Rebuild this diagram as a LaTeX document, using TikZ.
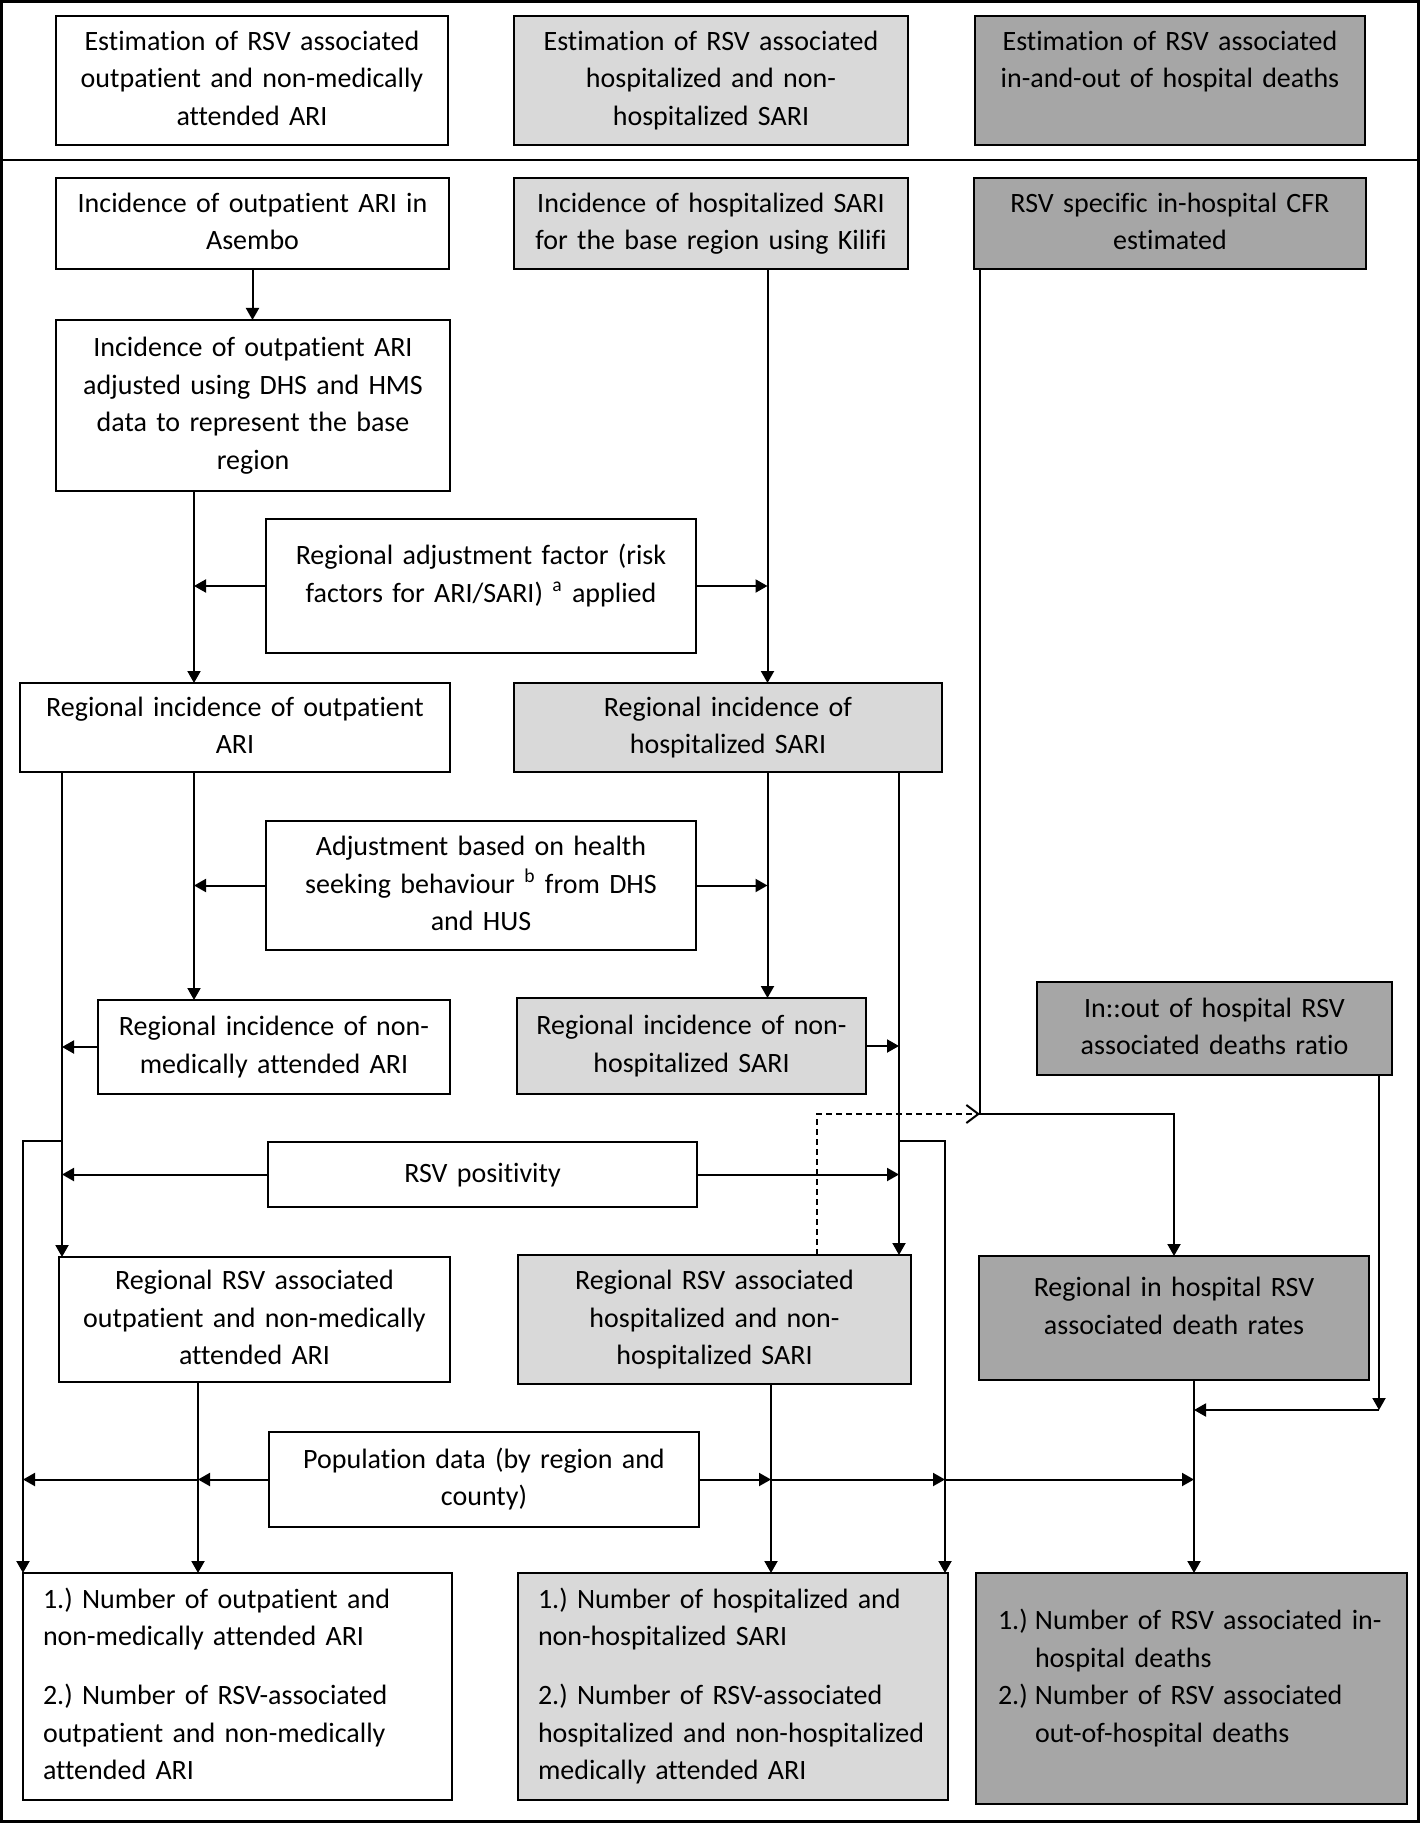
\documentclass[tikz,border=0pt]{standalone}
\usepackage{fontspec}
\setmainfont{Carlito}[Ligatures=NoCommon]
\usetikzlibrary{arrows.meta}
\definecolor{lgray}{HTML}{D9D9D9}
\definecolor{dgray}{HTML}{A6A6A6}
\begin{document}
\begin{tikzpicture}[x=0.5pt,y=-0.5pt,
  bxsz/.code n args={3}{%
    \pgfmathsetlengthmacro\bxw{#1*0.5pt}%
    \pgfmathsetlengthmacro\bxh{#2*0.5pt}%
    \pgfmathsetlengthmacro\bxt{(#1-#3)*0.5pt}%
    \edef\bxtmp{\noexpand\pgfkeysalso{minimum width=\bxw,minimum height=\bxh,text width=\bxt}}\bxtmp},
  base/.style={draw=black, line width=1.4pt, inner sep=0pt, outer sep=0pt, align=center, text=black,
    font=\fontsize{14pt}{18.75pt}\selectfont,
    execute at begin node=\strut, execute at end node=\strut},
  wbox/.style={base, fill=white},
  lbox/.style={base, fill=lgray},
  dbox/.style={base, fill=dgray},
  lft/.style={align=left},
  conn/.style={line width=1pt, draw=black},
  arr/.style={conn, -{Triangle[length=6pt,width=6.5pt]}},
  dsh/.style={conn, dash pattern=on 3pt off 2pt, -{Straight Barb[length=6pt,width=9pt]}},
  frame/.style={line width=1.5pt, draw=black},
  divider/.style={line width=1pt, draw=black}
]
\useasboundingbox (0,0) rectangle (1420,1823);
\draw[frame] (1.5,1.5) rectangle (1418.5,1821.5);
\draw[divider] (0,160) -- (1420,160);

% header row
\node[wbox, bxsz={392}{129}{12}] (h1) at (252,80.5) {Estimation of RSV associated\\outpatient and non-medically\\attended ARI};
\node[lbox, bxsz={394}{129}{12}] (h2) at (711,80.5) {Estimation of RSV associated\\hospitalized and non-\\hospitalized SARI};
\node[dbox, bxsz={390}{129}{12}] (h3) at (1170,80.5) {Estimation of RSV associated\\in-and-out of hospital deaths\\ \mbox{}};

% first row
\node[wbox, bxsz={393}{91}{12}] (r1a) at (252.5,223.5) {Incidence of outpatient ARI in\\Asembo};
\node[lbox, bxsz={394}{91}{12}] (r1b) at (711,223.5) {Incidence of hospitalized SARI\\for the base region using Kilifi};
\node[dbox, bxsz={392}{91}{12}] (r1c) at (1170,223.5) {RSV specific in-hospital CFR\\estimated};

\node[wbox, bxsz={394}{171}{12}] (adj) at (253,405.5) {Incidence of outpatient ARI\\adjusted using DHS and HMS\\data to represent the base\\region};
\node[wbox, bxsz={430}{134}{12}] (raf) at (481,586) {Regional adjustment factor (risk\\factors for ARI/SARI)~\textsuperscript{a} applied\\[-8.75pt]\mbox{}};
\node[wbox, bxsz={430}{89}{12}] (rio) at (235,727.5) {Regional incidence of outpatient\\ARI};
\node[lbox, bxsz={428}{89}{12}] (rih) at (728,727.5) {Regional incidence of\\hospitalized SARI};
\node[wbox, bxsz={430}{129}{12}] (hsb) at (481,885.5) {Adjustment based on health\\seeking behaviour~\textsuperscript{b} from DHS\\and HUS};
\node[wbox, bxsz={352}{94}{12}] (nma) at (274,1047) {Regional incidence of non-\\medically attended ARI};
\node[lbox, bxsz={349}{96}{12}] (nhs) at (691.5,1046) {Regional incidence of non-\\hospitalized SARI};
\node[dbox, bxsz={355}{93}{12}] (ior) at (1214.5,1028.5) {In::out of hospital RSV\\associated deaths ratio};
\node[wbox, bxsz={429}{65}{12}] (pos) at (482.5,1174.5) {RSV positivity};
\node[wbox, bxsz={391}{125}{12}] (rro) at (254.5,1319.5) {Regional RSV associated\\outpatient and non-medically\\attended ARI};
\node[lbox, bxsz={393}{129}{12}] (rrh) at (714.5,1319.5) {Regional RSV associated\\hospitalized and non-\\hospitalized SARI};
\node[dbox, bxsz={390}{124}{12}] (rdr) at (1174,1318) {Regional in hospital RSV\\associated death rates\\[-8.75pt]\mbox{}};
\node[wbox, bxsz={430}{95}{12}] (pop) at (484,1479.5) {Population data (by region and\\county)};

% final row
\node[wbox, lft, bxsz={429}{227}{40}] (fo) at (237.5,1686.5) {1.)\ Number of outpatient and\\non-medically attended ARI\\[10.75pt]2.)\ Number of RSV-associated\\outpatient and non-medically\\attended ARI};
\node[lbox, lft, bxsz={430}{227}{40}] (fh) at (733,1686.5) {1.)\ Number of hospitalized and\\non-hospitalized SARI\\[10.75pt]2.)\ Number of RSV-associated\\hospitalized and non-hospitalized\\medically attended ARI};
\node[dbox, lft, bxsz={431}{231}{44}] (fd) at (1191.5,1688.5) {\hangindent=18.5pt\hangafter=1\makebox[18.5pt][l]{1.)}Number of RSV associated in-\newline hospital deaths\par
\hangindent=18.5pt\hangafter=1\makebox[18.5pt][l]{2.)}Number of RSV associated\newline out-of-hospital deaths\\[-8.75pt]\mbox{}};

% connector columns and rows
\coordinate (xL) at (62,0);
\coordinate (xA) at (194,0);
\coordinate (xK) at (767.5,0);
\coordinate (xH) at (899,0);
\coordinate (xC) at (980,0);
\coordinate (xI) at (1379,0);
\coordinate (xD) at (1194,0);
\coordinate (xO) at (198,0);
\coordinate (xM) at (771,0);
\coordinate (xLL) at (23,0);
\coordinate (xRL) at (945,0);
\coordinate (xDs) at (817,0);
\coordinate (yLoop) at (0,1141);
\coordinate (yDs) at (0,1114);
\coordinate (yIO) at (0,1410);

% connectors
\draw[arr] (r1a.south) -- (adj.north -| r1a.south);
\draw[arr] (adj.south -| xA) -- (rio.north -| xA);
\draw[arr] (raf.west) -- (raf.west -| xA);
\draw[arr] (raf.east) -- (raf.east -| xK);
\draw[arr] (r1b.south -| xK) -- (rih.north -| xK);
\draw[arr] (rio.south -| xL) -- (rro.north -| xL);
\draw[arr] (rio.south -| xA) -- (nma.north -| xA);
\draw[arr] (hsb.west) -- (hsb.west -| xA);
\draw[arr] (hsb.east) -- (hsb.east -| xK);
\draw[arr] (rih.south -| xK) -- (nhs.north -| xK);
\draw[arr] (rih.south -| xH) -- (rrh.north -| xH);
\draw[arr] (nma.west) -- (nma.west -| xL);
\draw[arr] (nhs.east) -- (nhs.east -| xH);
\draw[arr] (pos.west) -- (pos.west -| xL);
\draw[arr] (pos.east) -- (pos.east -| xH);
\draw[arr] (xL |- yLoop) -- (xLL |- yLoop) -- (fo.north -| xLL);
\draw[arr] (xH |- yLoop) -- (xRL |- yLoop) -- (fh.north -| xRL);
\draw[arr] (rro.south -| xO) -- (fo.north -| xO);
\draw[arr] (pop.west) -- (pop.west -| xO);
\draw[arr] (pop.west -| xO) -- (pop.west -| xLL);
\draw[arr] (pop.east) -- (pop.east -| xM);
\draw[arr] (pop.east -| xM) -- (pop.east -| xRL);
\draw[arr] (pop.east -| xRL) -- (pop.east -| xD);
\draw[arr] (rrh.south -| xM) -- (fh.north -| xM);
\draw[arr] (rdr.south -| xD) -- (fd.north -| xD);
\draw[arr] (ior.south -| xI) -- (xI |- yIO);
\draw[arr] (xI |- yIO) -- (xD |- yIO);
\draw[arr] (r1c.south -| xC) -- (xC |- yDs) -- (rdr.north |- yDs) -- (rdr.north);
\draw[dsh] (rrh.north -| xDs) -- (xDs |- yDs) -- (xC |- yDs);
\end{tikzpicture}
\end{document}
